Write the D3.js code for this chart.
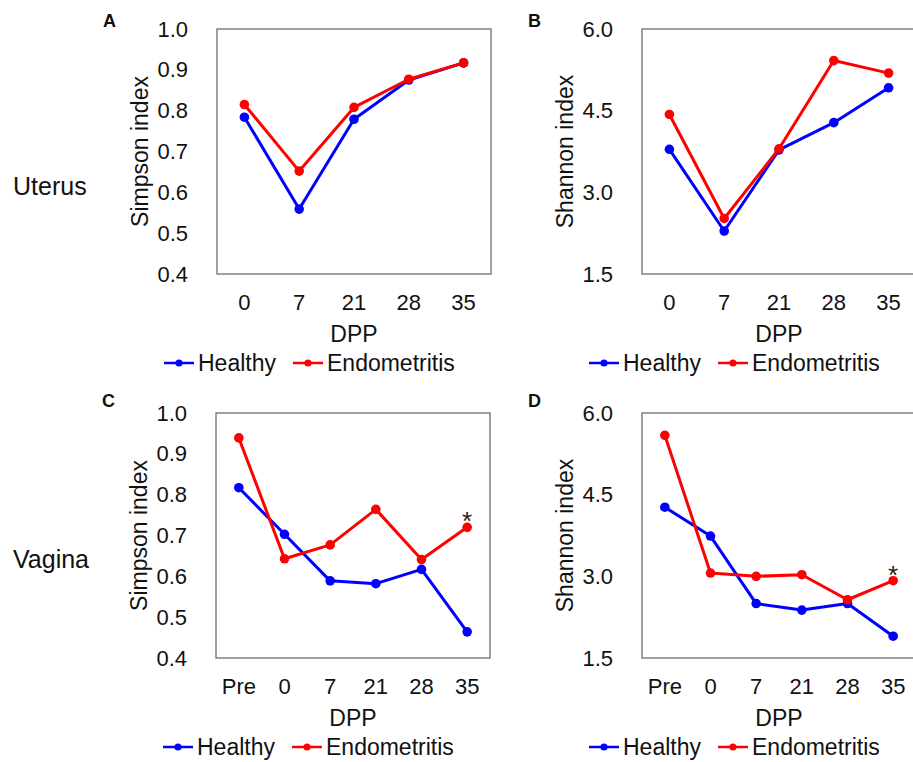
<!DOCTYPE html>
<html>
<head>
<meta charset="utf-8">
<script src="https://cdn.jsdelivr.net/npm/d3@7"></script>
<style>
  body { margin: 0; background: #fff; }
  svg { display: block; font-family: "Liberation Sans", Arial, sans-serif; }
</style>
</head>
<body>
<svg width="913" height="762"></svg>
<script>
// categories
var uterusDays = ["0", "7", "21", "28", "35"];
var vaginaDays = ["Pre", "0", "7", "21", "28", "35"];

// tick labels
var simpsonTicks = [0.4, 0.5, 0.6, 0.7, 0.8, 0.9, 1.0];
var shannonTicks = [1.5, 3.0, 4.5, 6.0];

// series values
var uterusSimpsonHealthy = [0.784, 0.559, 0.779, 0.875, 0.917];
var uterusSimpsonEndo    = [0.815, 0.652, 0.808, 0.877, 0.917];
var uterusShannonHealthy = [3.79, 2.29, 3.78, 4.28, 4.92];
var uterusShannonEndo    = [4.43, 2.52, 3.80, 5.42, 5.19];
var vaginaSimpsonHealthy = [0.817, 0.703, 0.589, 0.582, 0.617, 0.464];
var vaginaSimpsonEndo    = [0.939, 0.643, 0.677, 0.764, 0.641, 0.720];
var vaginaShannonHealthy = [4.27, 3.74, 2.50, 2.38, 2.50, 1.90];
var vaginaShannonEndo    = [5.59, 3.06, 3.00, 3.03, 2.57, 2.92];

var groups = ["Healthy", "Endometritis"];
var colors = ["#0000ff", "#ff0000"];

var svg = d3.select("svg");
var W = 274, H = 245;

var panels = [
  { letter: "A", left: 217, top: 29, days: uterusDays, ticks: simpsonTicks, title: "Simpson index",
    series: [uterusSimpsonHealthy, uterusSimpsonEndo], star: false },
  { letter: "B", left: 642, top: 29, days: uterusDays, ticks: shannonTicks, title: "Shannon index",
    series: [uterusShannonHealthy, uterusShannonEndo], star: false },
  { letter: "C", left: 216, top: 413, days: vaginaDays, ticks: simpsonTicks, title: "Simpson index",
    series: [vaginaSimpsonHealthy, vaginaSimpsonEndo], star: true },
  { letter: "D", left: 642, top: 413, days: vaginaDays, ticks: shannonTicks, title: "Shannon index",
    series: [vaginaShannonHealthy, vaginaShannonEndo], star: true }
];

function drawPanel(p) {
  var g = svg.append("g").attr("transform", "translate(" + p.left + "," + p.top + ")");

  var x = d3.scaleBand().domain(p.days).range([0, W]).padding(0);
  var y = d3.scaleLinear()
    .domain([p.ticks[0], p.ticks[p.ticks.length - 1]])
    .range([H, 0]);

  g.append("rect")
    .attr("width", W).attr("height", H)
    .attr("fill", "none").attr("stroke", "#6e6e6e").attr("stroke-width", 1.3);

  var yAxis = g.append("g")
    .call(d3.axisLeft(y).tickValues(p.ticks).tickFormat(d3.format(".1f")).tickSize(0).tickPadding(29));
  yAxis.select(".domain").remove();
  yAxis.selectAll("text").attr("font-size", 22).attr("fill", "#111").attr("font-family", null);

  var xAxis = g.append("g")
    .attr("transform", "translate(0," + H + ")")
    .call(d3.axisBottom(x).tickSize(0).tickPadding(20));
  xAxis.select(".domain").remove();
  xAxis.selectAll("text").attr("font-size", 22).attr("fill", "#111").attr("font-family", null);

  g.append("text")
    .attr("transform", "translate(-77," + (H / 2) + ") rotate(-90)")
    .attr("text-anchor", "middle").attr("dy", "0.35em")
    .attr("font-size", 23).attr("fill", "#111")
    .text(p.title);

  g.append("text")
    .attr("x", W / 2).attr("y", H + 68)
    .attr("text-anchor", "middle")
    .attr("font-size", 23).attr("fill", "#111")
    .text("DPP");

  var line = d3.line()
    .x(function(d, i) { return x(p.days[i]) + x.bandwidth() / 2; })
    .y(function(d) { return y(d); });

  p.series.forEach(function(vals, k) {
    g.append("path")
      .datum(vals)
      .attr("fill", "none")
      .attr("stroke", colors[k])
      .attr("stroke-width", 3)
      .attr("stroke-linejoin", "round")
      .attr("d", line);

    g.selectAll(".pt" + k)
      .data(vals)
      .enter().append("circle")
      .attr("cx", function(d, i) { return x(p.days[i]) + x.bandwidth() / 2; })
      .attr("cy", function(d) { return y(d); })
      .attr("r", 4.8)
      .attr("fill", colors[k]);
  });

  if (p.star) {
    var last = p.days.length - 1;
    var endo = p.series[1];
    g.append("text")
      .attr("x", x(p.days[last]) + x.bandwidth() / 2)
      .attr("y", y(endo[last]) + 3)
      .attr("text-anchor", "middle")
      .attr("font-size", 26).attr("fill", "#222")
      .text("*");
  }

  // legend
  var leg = g.append("g").attr("transform", "translate(0," + (H + 89) + ")");
  var legX = [-53, 76];
  groups.forEach(function(name, k) {
    leg.append("line")
      .attr("x1", legX[k]).attr("x2", legX[k] + 30)
      .attr("stroke", colors[k]).attr("stroke-width", 2.5);
    leg.append("circle")
      .attr("cx", legX[k] + 15).attr("r", 3.6)
      .attr("fill", colors[k]);
    leg.append("text")
      .attr("x", legX[k] + 34).attr("y", 8)
      .attr("font-size", 23).attr("fill", "#111")
      .text(name);
  });

  svg.append("text")
    .attr("x", p.left - 114).attr("y", p.top - 2 + (p.letter === "C" || p.letter === "D" ? -4 : 0))
    .attr("font-size", 18).attr("font-weight", "bold").attr("fill", "#111")
    .text(p.letter);
}

panels.forEach(drawPanel);

svg.append("text").attr("x", 13).attr("y", 195)
  .attr("font-size", 25).attr("fill", "#111").text("Uterus");
svg.append("text").attr("x", 13).attr("y", 568)
  .attr("font-size", 25).attr("fill", "#111").text("Vagina");
</script>
</body>
</html>
